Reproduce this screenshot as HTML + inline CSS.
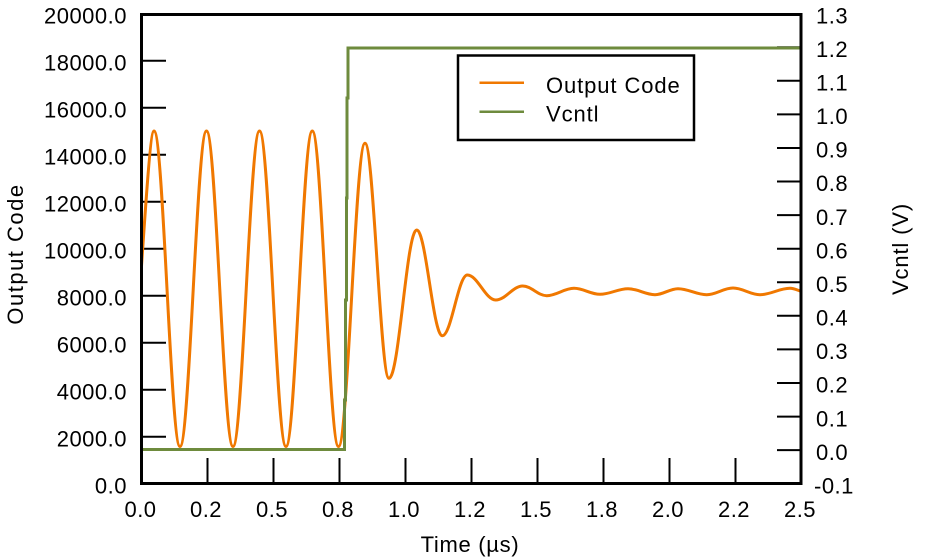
<!DOCTYPE html>
<html>
<head>
<meta charset="utf-8">
<style>
  html,body{margin:0;padding:0;background:#fff;}
  svg{display:block;}
  text{font-family:"Liberation Sans","DejaVu Sans",sans-serif;fill:#000;}
</style>
</head>
<body>
<svg width="939" height="559" viewBox="0 0 939 559" xmlns="http://www.w3.org/2000/svg">
  <rect x="0" y="0" width="939" height="559" fill="#fff"/>

  <!-- left ticks (inward) -->
  <g stroke="#000" stroke-width="2">
    <line x1="141.5" y1="436.7" x2="166" y2="436.7"/>
    <line x1="141.5" y1="389.7" x2="166" y2="389.7"/>
    <line x1="141.5" y1="342.7" x2="166" y2="342.7"/>
    <line x1="141.5" y1="295.7" x2="166" y2="295.7"/>
    <line x1="141.5" y1="248.7" x2="166" y2="248.7"/>
    <line x1="141.5" y1="201.7" x2="166" y2="201.7"/>
    <line x1="141.5" y1="154.7" x2="166" y2="154.7"/>
    <line x1="141.5" y1="107.7" x2="166" y2="107.7"/>
    <line x1="141.5" y1="60.7" x2="166" y2="60.7"/>
  </g>
  <!-- right ticks -->
  <g stroke="#000" stroke-width="2">
    <line x1="777" y1="450.1" x2="801" y2="450.1"/>
    <line x1="777" y1="416.6" x2="801" y2="416.6"/>
    <line x1="777" y1="383.0" x2="801" y2="383.0"/>
    <line x1="777" y1="349.4" x2="801" y2="349.4"/>
    <line x1="777" y1="315.8" x2="801" y2="315.8"/>
    <line x1="777" y1="282.2" x2="801" y2="282.2"/>
    <line x1="777" y1="248.7" x2="801" y2="248.7"/>
    <line x1="777" y1="215.1" x2="801" y2="215.1"/>
    <line x1="777" y1="181.5" x2="801" y2="181.5"/>
    <line x1="777" y1="148.0" x2="801" y2="148.0"/>
    <line x1="777" y1="114.4" x2="801" y2="114.4"/>
    <line x1="777" y1="80.8" x2="801" y2="80.8"/>
    <line x1="777" y1="47.3" x2="801" y2="47.3"/>
  </g>
  <!-- bottom ticks -->
  <g stroke="#000" stroke-width="2">
    <line x1="207.5" y1="458" x2="207.5" y2="483.5"/>
    <line x1="273.5" y1="458" x2="273.5" y2="483.5"/>
    <line x1="339.5" y1="458" x2="339.5" y2="483.5"/>
    <line x1="405.5" y1="458" x2="405.5" y2="483.5"/>
    <line x1="471.5" y1="458" x2="471.5" y2="483.5"/>
    <line x1="537.5" y1="458" x2="537.5" y2="483.5"/>
    <line x1="603.5" y1="458" x2="603.5" y2="483.5"/>
    <line x1="669.5" y1="458" x2="669.5" y2="483.5"/>
    <line x1="735.5" y1="458" x2="735.5" y2="483.5"/>
  </g>

  <!-- Output Code series -->
  <path fill="none" stroke="#F07800" stroke-width="3" stroke-linejoin="round" d="
    M141.5,266 C146,200 150.5,131 154,131
    C163.45,131 170.55,446.5 180,446.5
    C189.63,446.5 196.87,131 206.5,131
    C216.13,131 223.37,446.5 233,446.5
    C242.63,446.5 249.87,131 259.5,131
    C269.13,131 276.37,446.5 286,446.5
    C295.56,446.5 302.74,131 312.3,131
    C321.82,131 328.98,446.5 338.5,446.5
    C348.13,446.5 355.37,143.3 365,143.3
    C373.72,143.3 380.28,378.3 389,378.3
    C399.07,378.3 406.63,230 416.7,230
    C426,230 433,335.7 442.3,335.7
    C451.39,335.7 458.21,275 467.3,275
    C477.62,275 485.38,300 495.7,300
    C505.51,300 512.89,286 522.7,286
    C531.42,286 537.98,295.7 546.7,295.7
    C556.62,295.7 564.08,288.3 574,288.3
    C583.45,288.3 590.55,294.3 600,294.3
    C610.18,294.3 617.82,288.7 628,288.7
    C637.81,288.7 645.19,294.7 655,294.7
    C663.36,294.7 669.64,288.7 678,288.7
    C688.43,288.7 696.27,294.7 706.7,294.7
    C716.26,294.7 723.44,288 733,288
    C742.81,288 750.19,294.7 760,294.7
    C770.9,294.7 779.1,288.3 790,288.3
    C794,288.3 797,290 800,291"/>

  <!-- Vcntl series -->
  <polyline fill="none" stroke="#6E8B3D" stroke-width="3" stroke-linejoin="miter"
    points="141.5,449.5 344.5,449.5 344.5,400 345.5,400 345.5,300 346.5,300 346.5,198 347,198 347,98 348,98 348,48 800,48"/>

  <!-- frame -->
  <rect x="141.5" y="14.5" width="659.5" height="469" fill="none" stroke="#000" stroke-width="3"/>

  <!-- legend -->
  <rect x="458" y="55.5" width="236" height="84.5" fill="#fff" stroke="#000" stroke-width="2.5"/>
  <line x1="479.5" y1="82.7" x2="524" y2="82.7" stroke="#F07800" stroke-width="2.5"/>
  <line x1="479.5" y1="111.7" x2="524" y2="111.7" stroke="#6E8B3D" stroke-width="2.5"/>
  <text x="546" y="93" font-size="22" letter-spacing="0.9">Output Code</text>
  <text x="546" y="121.5" font-size="22" letter-spacing="0.9">Vcntl</text>

  <!-- left tick labels -->
  <g font-size="22" letter-spacing="0.5" text-anchor="end">
    <text x="127" y="23.3">20000.0</text>
    <text x="127" y="70.3">18000.0</text>
    <text x="127" y="117.3">16000.0</text>
    <text x="127" y="164.3">14000.0</text>
    <text x="127" y="211.3">12000.0</text>
    <text x="127" y="258.3">10000.0</text>
    <text x="127" y="305.3">8000.0</text>
    <text x="127" y="352.3">6000.0</text>
    <text x="127" y="399.3">4000.0</text>
    <text x="127" y="446.3">2000.0</text>
    <text x="127" y="493.3">0.0</text>
  </g>

  <!-- right tick labels -->
  <g font-size="22" letter-spacing="0.5" text-anchor="start">
    <text x="816" y="23.3">1.3</text>
    <text x="816" y="57">1.2</text>
    <text x="816" y="90.5">1.1</text>
    <text x="816" y="124.1">1.0</text>
    <text x="816" y="157.7">0.9</text>
    <text x="816" y="191.2">0.8</text>
    <text x="816" y="224.8">0.7</text>
    <text x="816" y="258.4">0.6</text>
    <text x="816" y="291.9">0.5</text>
    <text x="816" y="325.5">0.4</text>
    <text x="816" y="359.1">0.3</text>
    <text x="816" y="392.7">0.2</text>
    <text x="816" y="426.3">0.1</text>
    <text x="816" y="459.8">0.0</text>
    <text x="814" y="493.4">-0.1</text>
  </g>

  <!-- bottom tick labels -->
  <g font-size="22" letter-spacing="0.5" text-anchor="middle">
    <text x="140.5" y="517">0.0</text>
    <text x="206" y="517">0.2</text>
    <text x="272" y="517">0.5</text>
    <text x="338" y="517">0.8</text>
    <text x="404" y="517">1.0</text>
    <text x="470" y="517">1.2</text>
    <text x="536" y="517">1.5</text>
    <text x="602" y="517">1.8</text>
    <text x="668" y="517">2.0</text>
    <text x="734" y="517">2.2</text>
    <text x="800" y="517">2.5</text>
  </g>

  <!-- axis titles -->
  <text x="470" y="552" font-size="22" letter-spacing="0.7" text-anchor="middle">Time (µs)</text>
  <text transform="translate(23,254) rotate(-90)" font-size="22" letter-spacing="1.5" text-anchor="middle">Output Code</text>
  <text transform="translate(908,249) rotate(-90)" font-size="22" letter-spacing="0.85" text-anchor="middle">Vcntl (V)</text>
</svg>
</body>
</html>
